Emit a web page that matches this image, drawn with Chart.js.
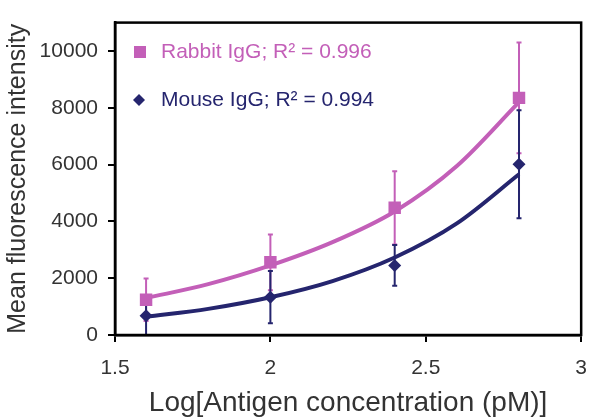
<!DOCTYPE html>
<html>
<head>
<meta charset="utf-8">
<script src="https://cdn.jsdelivr.net/npm/chart.js@4/dist/chart.umd.min.js"></script>
<style>
	html, body { margin: 0; padding: 0; background: #fff; }
	#wrap { width: 601px; height: 420px; }
</style>
</head>
<body>
<div id="wrap"><canvas id="graph" width="601" height="420"></canvas></div>
<script>
// measured points
var concLog = [1.6, 2.0, 2.4, 2.8];
var rabbit = [1240, 2560, 4480, 8350];
var rabbitErr = [750, 980, 1290, 1950];
var mouse = [680, 1330, 2450, 6010];
var mouseErr = [700, 920, 720, 1900];

// trend lines
var trendX = [1.6, 1.8, 2.0, 2.2, 2.4, 2.6, 2.8];
var rabbitTrend = [1300, 1790, 2450, 3270, 4350, 5950, 8200];
var mouseTrend = [640, 920, 1330, 1900, 2730, 3930, 5660];

var xTicks = [1.5, 2, 2.5, 3];
var yTicks = [0, 2000, 4000, 6000, 8000, 10000];

var pink = '#c35fb8';
var navy = '#25256e';
var font = "'Liberation Sans', Arial, sans-serif";

function pts(xs, ys) {
	return xs.map((x, i) => ({ x: x, y: ys[i] }));
}

const errorBars = {
	id: 'errorBars',
	beforeDatasetsDraw(chart) {
		const c = chart.ctx;
		const xs = chart.scales.x, ys = chart.scales.y;
		[[rabbit, rabbitErr, pink], [mouse, mouseErr, navy]].forEach(set => {
			c.save();
			c.strokeStyle = set[2];
			c.lineWidth = 2;
			concLog.forEach((x, i) => {
				const px = xs.getPixelForValue(x);
				const lo = ys.getPixelForValue(Math.max(0, set[0][i] - set[1][i]));
				const hi = ys.getPixelForValue(set[0][i] + set[1][i]);
				c.beginPath();
				c.moveTo(px, lo); c.lineTo(px, hi);
				c.moveTo(px - 2.5, lo); c.lineTo(px + 2.5, lo);
				c.moveTo(px - 2.5, hi); c.lineTo(px + 2.5, hi);
				c.stroke();
			});
			c.restore();
		});
	}
};

const frame = {
	id: 'frame',
	afterDraw(chart) {
		const a = chart.chartArea, c = chart.ctx;
		c.save();
		c.strokeStyle = '#000';
		c.lineWidth = 2.5;
		c.strokeRect(a.left, a.top, a.right - a.left, a.bottom - a.top);
		// legend inside the plot
		c.font = '21px ' + font;
		c.textBaseline = 'middle';
		c.fillStyle = pink;
		c.fillRect(134, 46, 12, 12);
		c.fillText('Rabbit IgG; R\u00B2 = 0.996', 161, 52);
		c.fillStyle = navy;
		c.beginPath();
		c.moveTo(139, 94); c.lineTo(145, 100); c.lineTo(139, 106); c.lineTo(133, 100);
		c.closePath(); c.fill();
		c.fillText('Mouse IgG; R\u00B2 = 0.994', 161, 100);
		c.restore();
	}
};

const ctx = document.getElementById('graph').getContext('2d');

new Chart(ctx, {
	type: 'scatter',
	data: {
		datasets: [{
			label: 'Rabbit fit',
			data: pts(trendX, rabbitTrend),
			showLine: true,
			borderColor: pink,
			borderWidth: 4,
			pointRadius: 0,
			cubicInterpolationMode: 'monotone'
		},
		{
			label: 'Mouse fit',
			data: pts(trendX, mouseTrend),
			showLine: true,
			borderColor: navy,
			borderWidth: 4,
			pointRadius: 0,
			cubicInterpolationMode: 'monotone'
		},
		{
			label: 'Rabbit IgG',
			data: pts(concLog, rabbit),
			pointStyle: 'rect',
			pointRadius: 8.8,
			backgroundColor: pink,
			borderColor: pink,
			borderWidth: 0
		},
		{
			label: 'Mouse IgG',
			data: pts(concLog, mouse),
			pointStyle: 'rectRot',
			pointRadius: 6.5,
			backgroundColor: navy,
			borderColor: navy,
			borderWidth: 0
		}]
	},
	options: {
		animation: false,
		responsive: false,
		layout: { padding: { top: 19, right: 14, left: 0, bottom: 0 } },
		plugins: {
			legend: { display: false },
			tooltip: { enabled: false }
		},
		scales: {
			x: {
				type: 'linear',
				min: 1.5,
				max: 3,
				afterBuildTicks: s => { s.ticks = xTicks.map(v => ({ value: v })); },
				afterFit: s => { s.height = 85; },
				border: { color: '#000', width: 2.5 },
				grid: { drawOnChartArea: false, drawTicks: true, tickLength: 7, color: '#000', lineWidth: 2 },
				ticks: { color: '#333', font: { family: font, size: 21 }, padding: 14, callback: v => String(v) },
				title: {
					display: true,
					text: 'Log[Antigen concentration (pM)]',
					color: '#333',
					font: { family: font, size: 28 },
					padding: { top: 0, bottom: 0 }
				}
			},
			y: {
				type: 'linear',
				min: 0,
				max: 11000,
				afterBuildTicks: s => { s.ticks = yTicks.map(v => ({ value: v })); },
				afterFit: s => { s.width = 115; },
				border: { color: '#000', width: 2.5 },
				grid: { drawOnChartArea: false, drawTicks: true, tickLength: 7, color: '#000', lineWidth: 2 },
				ticks: { color: '#333', font: { family: font, size: 21 }, padding: 10, callback: v => String(v) },
				title: {
					display: true,
					text: 'Mean fluorescence intensity',
					color: '#333',
					font: { family: font, size: 25 },
					padding: { top: 3, bottom: 0 }
				}
			}
		}
	},
	plugins: [errorBars, frame]
});
</script>
</body>
</html>
